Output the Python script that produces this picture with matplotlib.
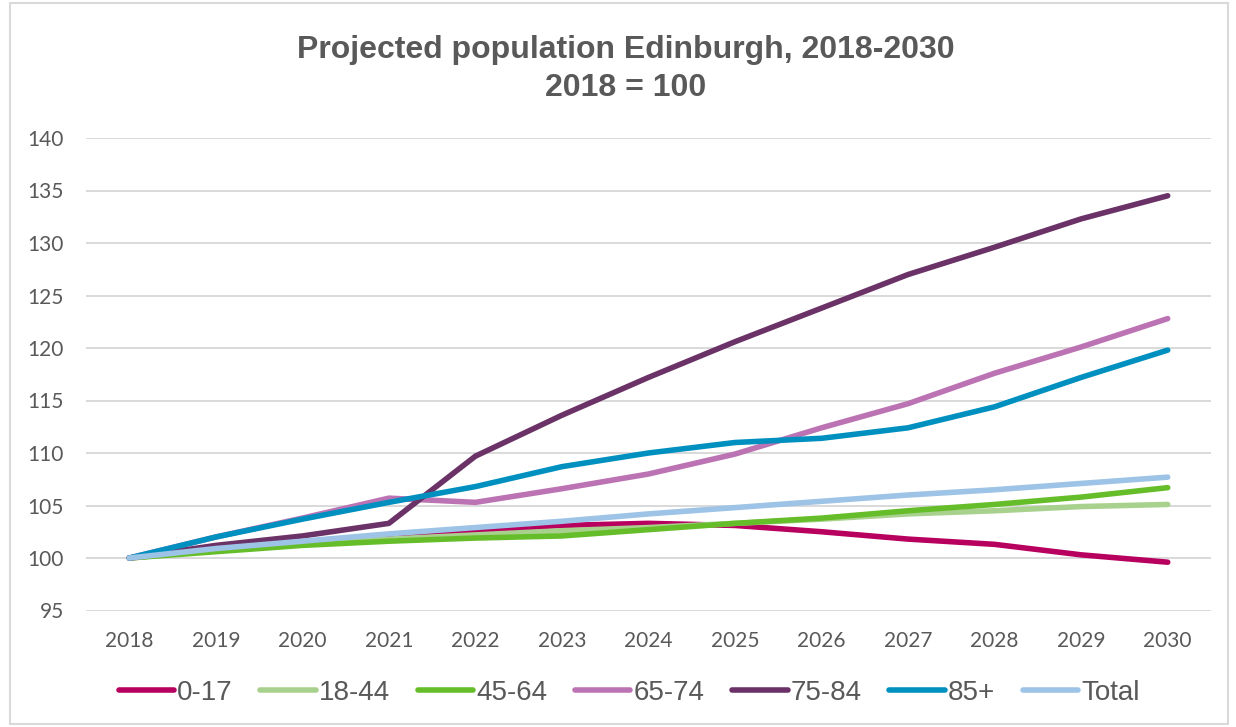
import matplotlib
matplotlib.use('Agg')
import matplotlib.pyplot as plt
from matplotlib.patches import Rectangle

years = [2018, 2019, 2020, 2021, 2022, 2023, 2024, 2025, 2026, 2027, 2028, 2029, 2030]

age_0_17 = [100, 100.8, 101.5, 102.1, 102.6, 103.1, 103.3, 103.1, 102.5, 101.8, 101.3, 100.3, 99.6]
age_18_44 = [100, 100.7, 101.3, 101.8, 102.2, 102.6, 102.9, 103.3, 103.7, 104.2, 104.5, 104.9, 105.1]
age_45_64 = [100, 100.6, 101.2, 101.6, 101.9, 102.1, 102.7, 103.3, 103.8, 104.5, 105.1, 105.8, 106.7]
age_65_74 = [100, 102.0, 103.8, 105.7, 105.3, 106.6, 108.0, 109.9, 112.4, 114.7, 117.6, 120.1, 122.8]
age_75_84 = [100, 101.2, 102.1, 103.3, 109.7, 113.6, 117.2, 120.6, 123.8, 127.0, 129.6, 132.3, 134.5]
age_85_plus = [100, 102.0, 103.7, 105.3, 106.8, 108.7, 110.0, 111.0, 111.4, 112.4, 114.4, 117.2, 119.8]
total = [100, 100.9, 101.6, 102.3, 102.9, 103.5, 104.2, 104.8, 105.4, 106.0, 106.5, 107.1, 107.7]

labels = ['0-17', '18-44', '45-64', '65-74', '75-84', '85+', 'Total']
series = [age_0_17, age_18_44, age_45_64, age_65_74, age_75_84, age_85_plus, total]
colors = ['#B8005F', '#A9D18E', '#66BD2A', '#BC73B3', '#6B3267', '#0090C0', '#9DC3E6']

W, H = 1236, 727
fig = plt.figure(figsize=(W / 100, H / 100), dpi=100)
ax = fig.add_axes([86 / W, 1 - 610.5 / H, (1211 - 86) / W, (610.5 - 138) / H])

xs = list(range(len(years)))
for vals, lab, col in zip(series, labels, colors):
    ax.plot(xs, vals, color=col, lw=4, label=lab, solid_capstyle='round')

ax.set_xlim(-0.5, len(years) - 0.5)
ax.set_ylim(95, 140)
ax.set_yticks(range(95, 141, 5))
ax.set_xticks(xs)
ax.set_xticklabels([str(y) for y in years])
ax.grid(axis='y', color='#D9D9D9', lw=1.4)
ax.set_axisbelow(True)
for s in ax.spines.values():
    s.set_visible(False)
ax.tick_params(length=0, labelsize=15, labelcolor='#595959')
ax.tick_params(axis='x', pad=15)
ax.tick_params(axis='y', pad=16)
for t in ax.get_xticklabels() + ax.get_yticklabels():
    t.set_fontfamily(['Lato', 'DejaVu Sans'])

fig.text(626 / W, 1 - 50 / H, 'Projected population Edinburgh, 2018-2030',
         ha='center', va='center', fontsize=23, fontweight='bold',
         color='#595959', family='Liberation Sans')
fig.text(626 / W, 1 - 88 / H, '2018 = 100',
         ha='center', va='center', fontsize=23, fontweight='bold',
         color='#595959', family='Liberation Sans')

leg = fig.legend(loc='center', bbox_to_anchor=(629 / W, 1 - 693 / H), ncol=7,
                 frameon=False, handlelength=2.0, handletextpad=0.1,
                 columnspacing=1.0,
                 prop={'family': 'Liberation Sans', 'size': 20})
for t in leg.get_texts():
    t.set_color('#595959')

fig.patches.append(Rectangle((10 / W, 3 / H), 1218 / W, 721 / H, transform=fig.transFigure,
                             fill=False, edgecolor='#D9D9D9', lw=1.5))

fig.savefig('out.png', dpi=100)
